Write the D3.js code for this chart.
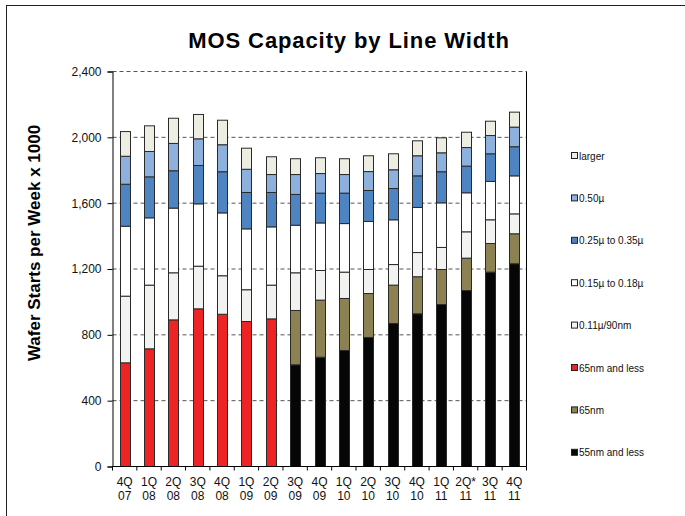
<!DOCTYPE html>
<html><head><meta charset="utf-8">
<script src="https://cdn.jsdelivr.net/npm/d3@7"></script>
<style>body{margin:0;background:#fff;}svg{display:block;font-family:Arial,"Liberation Sans",sans-serif;}</style>
</head><body>
<script>
const categories = ["4Q 07","1Q 08","2Q 08","3Q 08","4Q 08","1Q 09","2Q 09","3Q 09","4Q 09","1Q 10","2Q 10","3Q 10","4Q 10","1Q 11","2Q* 11","3Q 11","4Q 11"];
const seriesNames = ["55nm and less","65nm","65nm and less","0.11µ/90nm","0.15µ to 0.18µ","0.25µ to 0.35µ","0.50µ","larger"];
const s55 =   [0,0,0,0,0,0,0,618,664,705,784,869,928,984,1069,1181,1232];
const s65 =   [0,0,0,0,0,0,0,330,347,316,267,233,225,213,197,174,182];
const s65less=[630,715,891,958,925,881,897,0,0,0,0,0,0,0,0,0,0];
const s90 =   [405,387,286,259,234,193,205,229,180,160,146,125,147,134,160,144,121];
const s018 =  [425,409,393,379,382,370,354,289,289,295,292,272,274,271,237,233,231];
const s035 =  [255,249,227,233,250,221,209,187,181,185,188,190,192,189,162,168,177];
const s050 =  [170,154,166,162,164,141,109,121,119,113,115,114,122,115,113,111,119];
const sLarger=[150,156,153,148,149,128,108,96,96,96,96,97,91,91,93,87,91];
const yTicks = [0,400,800,1200,1600,2000,2400];
const colors = ["#060606","#8c8152","#ee2424","#f2f3f1","#ffffff","#4f84c3","#8db0dd","#ededE2"];
const legendOrder = [7,6,5,4,3,2,1,0];

const W=685,H=516;
const svg=d3.select("body").append("svg").attr("width",W).attr("height",H);
// frame
svg.append("rect").attr("x",6.5).attr("y",5.5).attr("width",W).attr("height",H).attr("fill","none").attr("stroke","#222").attr("stroke-width",1);

const m={l:112.5,r:526.5,t:71.5,b:466.5};
const x=d3.scaleBand().domain(categories).range([m.l,m.r]).paddingInner(0.59).paddingOuter(0.295);
const y=d3.scaleLinear().domain([0,2400]).range([m.b,m.t]);

// gridlines
svg.append("g").selectAll("line").data(yTicks.filter(d=>d>0)).join("line")
 .attr("x1",m.l).attr("x2",m.r).attr("y1",d=>y(d)).attr("y2",d=>y(d))
 .attr("stroke","#555").attr("stroke-width",1).attr("stroke-dasharray","4,3");

// stacked bars
const table=categories.map((c,i)=>({cat:c,v:[s55[i],s65[i],s65less[i],s90[i],s018[i],s035[i],s050[i],sLarger[i]]}));
const stack=d3.stack().keys(d3.range(8)).value((d,k)=>d.v[k]);
const layers=stack(table);
svg.append("g").selectAll("g").data(layers).join("g").attr("fill",(d,i)=>colors[i])
 .selectAll("rect").data(d=>d.filter(p=>p[1]-p[0]>0)).join("rect")
 .attr("x",d=>Math.round(x(d.data.cat))+0.5).attr("width",Math.round(x.bandwidth()))
 .attr("y",d=>y(d[1])).attr("height",d=>y(d[0])-y(d[1]))
 .attr("stroke","#2a2a2a").attr("stroke-width",1);

// right border
svg.append("line").attr("x1",m.r).attr("x2",m.r).attr("y1",m.t).attr("y2",m.b).attr("stroke","#000");

// y axis
const ya=svg.append("g").attr("transform",`translate(${m.l},0)`)
 .call(d3.axisLeft(y).tickValues(yTicks).tickFormat(d3.format(",")).tickSize(5).tickPadding(6));
ya.select(".domain").attr("stroke","#000");
ya.selectAll("text").attr("font-size",12).attr("fill","#111").attr("font-family","Arial,'Liberation Sans',sans-serif");

// x axis
const xa=svg.append("g").attr("transform",`translate(0,${m.b})`);
xa.append("line").attr("x1",m.l).attr("x2",m.r).attr("stroke","#000");
xa.selectAll("line.tk").data(d3.range(categories.length+1)).join("line").attr("class","tk")
 .attr("x1",i=>m.l+i*(m.r-m.l)/categories.length).attr("x2",i=>m.l+i*(m.r-m.l)/categories.length)
 .attr("y1",0).attr("y2",4).attr("stroke","#000");
const xl=xa.selectAll("text").data(categories).join("text")
 .attr("x",d=>x(d)+x.bandwidth()/2).attr("y",19).attr("text-anchor","middle")
 .attr("font-size",12).attr("fill","#111");
xl.each(function(d){const p=d.split(" ");const t=d3.select(this);
 t.append("tspan").attr("x",x(d)+x.bandwidth()/2).attr("dy",0).text(p[0]);
 t.append("tspan").attr("x",x(d)+x.bandwidth()/2).attr("dy",14).text(p[1]);});

// title
svg.append("text").attr("x",349).attr("y",48).attr("text-anchor","middle")
 .attr("font-size",22).attr("font-weight","bold").attr("letter-spacing","0.9px").attr("fill","#000").text("MOS Capacity by Line Width");
// y title
svg.append("text").attr("transform","translate(40,243) rotate(-90)").attr("text-anchor","middle")
 .attr("font-size",17).attr("font-weight","bold").attr("fill","#000").text("Wafer Starts per Week x 1000");

// legend
const lg=svg.append("g").selectAll("g").data(legendOrder).join("g")
 .attr("transform",(d,i)=>`translate(571,${156+i*42.4})`);
lg.append("rect").attr("x",0.5).attr("y",-3.5).attr("width",6).attr("height",6)
 .attr("fill",d=>colors[d]).attr("stroke","#222").attr("stroke-width",1);
lg.append("text").attr("x",8).attr("y",3.5).attr("font-size",10).attr("fill","#111").text(d=>seriesNames[d]);
</script>
</body></html>
